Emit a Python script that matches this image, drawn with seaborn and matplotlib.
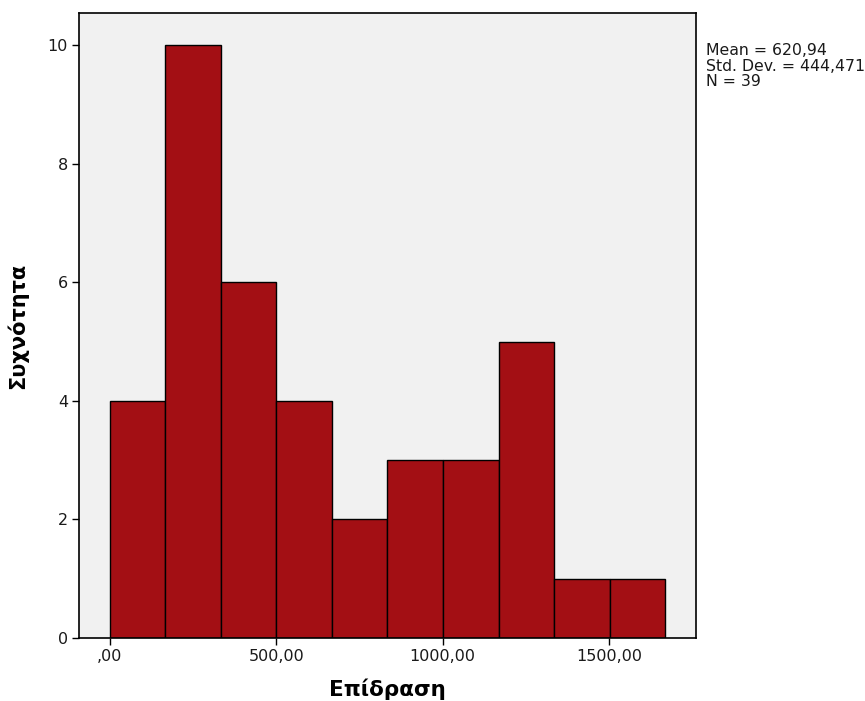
import matplotlib
matplotlib.use("Agg")
import matplotlib.pyplot as plt
import seaborn as sns
import numpy as np

# Data
bin_edges = [0, 166.8, 333.6, 500.4, 667.2, 834.0, 1000.8, 1167.6, 1334.4, 1501.2, 1668.0]
counts = [4, 10, 6, 4, 2, 3, 3, 5, 1, 1]
x_ticks = [0, 500, 1000, 1500]
x_tick_labels = [",00", "500,00", "1000,00", "1500,00"]
y_ticks = [0, 2, 4, 6, 8, 10]
stats_text = "Mean = 620,94\nStd. Dev. = 444,471\nN = 39"
x_label = "Επίδραση"
y_label = "Συχνότητα"

sns.set_style("ticks")
plt.rcParams['font.family'] = ['DejaVu Sans']

fig = plt.figure(figsize=(8.65, 7.01), dpi=100)
ax = fig.add_axes([79/865, 63/701, (696-79)/865, (638-13)/701])

centers = [(bin_edges[i] + bin_edges[i+1]) / 2 for i in range(len(counts))]
sns.histplot(x=centers, weights=counts, bins=bin_edges, ax=ax,
             color="#a30f14", alpha=1.0, edgecolor="black", linewidth=1.0)

ax.set_facecolor("#f1f1f1")
ax.set_xlim(-93, 1761)
ax.set_ylim(0, 10.54)
ax.set_xticks(x_ticks)
ax.set_xticklabels(x_tick_labels)
ax.set_yticks(y_ticks)
ax.set_yticklabels([str(v) for v in y_ticks])
ax.tick_params(axis='both', length=5, width=1, color="black", labelsize=11.5,
               labelcolor="#1a1a1a", pad=3)
for s in ax.spines.values():
    s.set_visible(True)
    s.set_color("black")
    s.set_linewidth(1.2)

ax.set_xlabel(x_label, fontsize=15.5, fontweight="bold", labelpad=10, color="black")
ax.set_ylabel(y_label, fontsize=15, fontweight="bold", labelpad=14, color="black")

fig.text(706/865, 1 - 43/701, stats_text, fontsize=11.3, va="top", ha="left",
         color="#1a1a1a", linespacing=1.05)

fig.savefig("out.png", dpi=100, facecolor="white")
